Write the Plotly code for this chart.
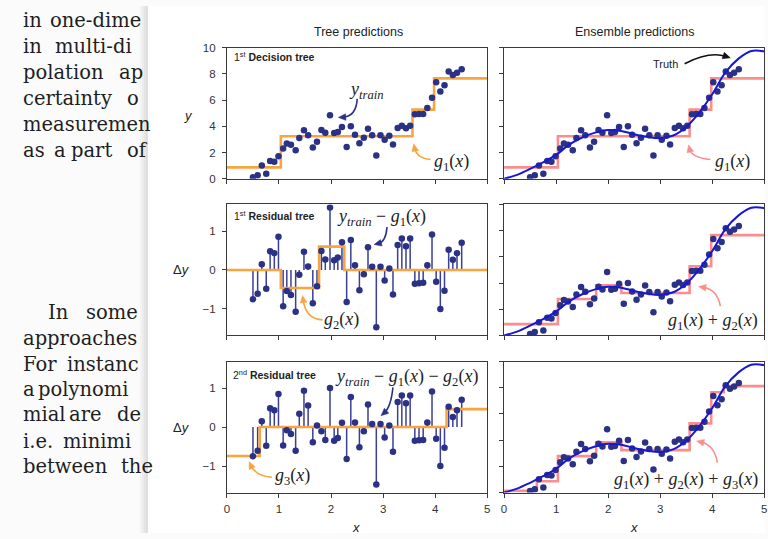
import numpy as np
import plotly.graph_objects as go

W, H = 768, 539

# ---------------- data ----------------
x_train = [0.50, 0.59, 0.67, 0.755, 0.83, 0.91, 0.99, 1.08, 1.15, 1.23,
           1.32, 1.39, 1.48, 1.56, 1.65, 1.73, 1.815, 1.89, 1.98, 2.06,
           2.13, 2.21, 2.30, 2.38, 2.46, 2.545, 2.63, 2.71, 2.79, 2.87,
           2.95, 3.03, 3.12, 3.19, 3.28, 3.36, 3.44, 3.52, 3.61, 3.69,
           3.77, 3.85, 3.94, 4.02, 4.10, 4.18, 4.26, 4.34, 4.42, 4.51]
y_train = [0.12, 0.26, 1.02, 0.39, 1.35, 1.30, 1.72, 2.31, 2.70, 2.60,
           2.17, 3.12, 3.71, 3.33, 2.39, 2.82, 3.73, 3.51, 4.84, 3.49,
           3.56, 3.95, 2.42, 4.01, 3.36, 2.72, 3.13, 3.82, 3.32, 1.77,
           3.32, 2.97, 3.28, 2.61, 3.88, 4.05, 3.85, 4.05, 4.93, 4.94,
           4.95, 5.40, 6.19, 7.36, 6.66, 7.13, 8.18, 7.92, 8.09, 8.36]

g1_edges = [1.035, 3.565, 3.98]
g1_levels = [0.87, 3.24, 5.28, 7.66]
g2_edges = [1.035, 1.77, 2.255]
g2_levels = [0.0, -0.46, 0.60, 0.0]
g3_edges = [0.63, 4.22]
g3_levels = [-0.74, 0.0, 0.46]

truth_x = [0, 0.25, 0.5, 0.75, 1.0, 1.25, 1.5, 1.75, 2.0, 2.25, 2.5,
           2.75, 3.0, 3.25, 3.5, 3.75, 4.0, 4.25, 4.5, 4.75, 5.0]
truth_y = [0.0, 0.3, 0.75, 1.25, 1.82, 2.6, 3.15, 3.52, 3.72, 3.65, 3.4,
           3.2, 3.1, 3.3, 3.95, 5.05, 6.45, 8.1, 9.15, 9.75, 9.72]

x_ticks = [0, 1, 2, 3, 4, 5]
y_ticks = [0, 2, 4, 6, 8, 10]
dy_ticks = [-1, 0, 1]

# ---------------- styles ----------------
NAVY = "#2b3185"
STEM = "#3a3f98"
ORANGE = "#f8a540"
PINK = "#f98e8c"
BLUE = "#1717d6"
AX = "#3a3a3a"
SANS = "Liberation Sans"
SERIF = "Liberation Serif"


def eval_step(xv, edges, levels):
    idx = np.searchsorted(np.array(edges), np.array(xv, dtype=float), side="right")
    return np.array(levels)[idx]


def step_line(*gs):
    bp = sorted(set([0.0, 5.0] + [e for g in gs for e in g[0]]))
    ys = sum(eval_step(bp, g[0], g[1]) for g in gs)
    return bp, list(ys)


xa = np.array(x_train)
ya = np.array(y_train)
r1 = ya - eval_step(xa, g1_edges, g1_levels)
r2 = r1 - eval_step(xa, g2_edges, g2_levels)

fig = go.Figure()


def stems(xs, rs, xr, yr):
    sx, sy = [], []
    for a, b in zip(xs, rs):
        sx += [a, a, None]
        sy += [0, b, None]
    fig.add_trace(go.Scatter(x=sx, y=sy, mode="lines", xaxis=xr, yaxis=yr,
                             line=dict(color=STEM, width=1.5), hoverinfo="skip"))


def dots(xs, ys, xr, yr):
    fig.add_trace(go.Scatter(x=list(xs), y=list(ys), mode="markers", xaxis=xr, yaxis=yr,
                             marker=dict(color=NAVY, size=6.5, line=dict(width=0))))


def step(bx, by, color, xr, yr):
    fig.add_trace(go.Scatter(x=bx, y=by, mode="lines", line_shape="hv", xaxis=xr, yaxis=yr,
                             line=dict(color=color, width=2.6)))


def truth(xr, yr):
    fig.add_trace(go.Scatter(x=truth_x, y=truth_y, mode="lines", line_shape="spline",
                             xaxis=xr, yaxis=yr, line=dict(color=BLUE, width=2)))


g1 = (g1_edges, g1_levels)
g2 = (g2_edges, g2_levels)
g3 = (g3_edges, g3_levels)

# row 1
bx, by = step_line(g1)
step(bx, by, ORANGE, "x", "y")
dots(x_train, y_train, "x", "y")
step(bx, by, PINK, "x2", "y2")
dots(x_train, y_train, "x2", "y2")
truth("x2", "y2")
# row 2
stems(x_train, r1, "x3", "y3")
bx, by = step_line(g2)
step(bx, by, ORANGE, "x3", "y3")
dots(x_train, r1, "x3", "y3")
bx, by = step_line(g1, g2)
step(bx, by, PINK, "x4", "y4")
dots(x_train, y_train, "x4", "y4")
truth("x4", "y4")
# row 3
stems(x_train, r2, "x5", "y5")
bx, by = step_line(g3)
step(bx, by, ORANGE, "x5", "y5")
dots(x_train, r2, "x5", "y5")
bx, by = step_line(g1, g2, g3)
step(bx, by, PINK, "x6", "y6")
dots(x_train, y_train, "x6", "y6")
truth("x6", "y6")

# ---------------- axes ----------------
colx = [(225.7, 488.0), (505.0, 767.3)]
rowy = [(42.7, 176.7), (203.0, 337.0), (363.6, 497.7)]


def xd(p):
    return [p[0] / W, p[1] / W]


def yd(p):
    return [1 - p[1] / H, 1 - p[0] / H]


base = dict(showline=True, mirror=True, linecolor=AX, linewidth=1, ticks="outside",
            ticklen=4, tickwidth=1, tickcolor=AX, showgrid=False, zeroline=False,
            tickfont=dict(family=SANS, size=11.5, color="#333"))
lay = {}
k = 0
for r in range(3):
    for c in range(2):
        k += 1
        sx = "" if k == 1 else str(k)
        lay["xaxis" + sx] = dict(base, domain=xd(colx[c]), range=[0, 5], tickvals=x_ticks,
                                 showticklabels=(r == 2), anchor="y" + sx,
                                 ticklabelstandoff=2)
        if c == 0 and r > 0:
            yr, tv = [-1.68, 1.68], dy_ticks
        else:
            yr, tv = [0, 10], y_ticks
        lay["yaxis" + sx] = dict(base, domain=yd(rowy[r]), range=yr, tickvals=tv,
                                 showticklabels=(c == 0), anchor="x" + sx,
                                 ticklabelstandoff=4)

annotations = []
shapes = []


def P(px, py):
    return px / W, 1 - py / H


def ann(text, px, py, size, family=SANS, color="#222", xanchor="center", yanchor="middle"):
    x, y = P(px, py)
    annotations.append(dict(text=text, x=x, y=y, xref="paper", yref="paper", showarrow=False,
                            xanchor=xanchor, yanchor=yanchor,
                            font=dict(family=family, size=size, color=color)))


def curve(p0, c, p1, color, width=1.6):
    x0, y0 = P(*p0)
    cx, cy = P(*c)
    dx, dy = c[0] - p1[0], c[1] - p1[1]
    n = (dx * dx + dy * dy) ** 0.5
    ux, uy = dx / n, dy / n
    L, hw = 7.5, 3.4
    # shorten the curve so the line ends inside the head
    e = (p1[0] + ux * L * 0.6, p1[1] + uy * L * 0.6)
    ex, ey = P(*e)
    shapes.append(dict(type="path", xref="paper", yref="paper",
                       path=f"M {x0},{y0} Q {cx},{cy} {ex},{ey}",
                       line=dict(color=color, width=width)))
    bxp, byp = p1[0] + ux * L, p1[1] + uy * L
    a = P(p1[0], p1[1])
    b = P(bxp - uy * hw, byp + ux * hw)
    d = P(bxp + uy * hw, byp - ux * hw)
    shapes.append(dict(type="path", xref="paper", yref="paper",
                       path=f"M {a[0]},{a[1]} L {b[0]},{b[1]} L {d[0]},{d[1]} Z",
                       fillcolor=color, line=dict(color=color, width=0.5)))


# page background (book text) and figure panel
shapes.append(dict(type="rect", xref="paper", yref="paper", x0=146 / W, x1=1, y0=0, y1=1,
                   fillcolor="white", line=dict(width=0), layer="below"))
for i, colr in enumerate(["#f3f3f3", "#ececec", "#e4e4e4", "#dcdcdc"]):
    shapes.append(dict(type="rect", xref="paper", yref="paper", x0=(138 + 2 * i) / W,
                       x1=(140 + 2 * i) / W, y0=0, y1=1, fillcolor=colr,
                       line=dict(width=0), layer="below"))

page_words = [
    ("in", 18, 21.7), ("one-dime", 45, 21.7),
    ("in", 18, 48.3), ("multi-di", 50, 48.3),
    ("polation", 18, 75), ("ap", 115, 75),
    ("certainty", 18, 101.7), ("o", 123, 101.7),
    ("measuremen", 18, 128.3),
    ("as", 18, 155), ("a", 49, 155), ("part", 67, 155), ("of", 123, 155),
    ("In", 43, 320), ("some", 82, 320),
    ("approaches", 18, 346.7),
    ("For", 18, 373.3), ("instanc", 62, 373.3),
    ("a", 18, 398.5), ("polynomi", 33, 398.5),
    ("mial", 18, 425), ("are", 65, 425), ("de", 113, 425),
    ("i.e.", 18, 451.7), ("minimi", 58, 451.7),
    ("between", 18, 477.5), ("the", 117, 477.5),
]
for w, px, base_y in page_words:
    ann(w, px, base_y - 6.7, 19.5, family="DejaVu Serif", color="#1e1e1e", xanchor="left")

# titles and labels
ann("Tree predictions", 358.5, 27, 12.5)
ann("Ensemble predictions", 637, 27, 12.5)
ann("1<sup>st</sup> <b>Decision tree</b>", 231, 52, 10.5, xanchor="left")
ann("1<sup>st</sup> <b>Residual tree</b>", 231, 214, 10.5, xanchor="left")
ann("2<sup>nd</sup> <b>Residual tree</b>", 230, 377, 10.5, xanchor="left")
ann("<i>y</i>", 187, 112, 13)
ann("Δ<i>y</i>", 180, 270, 13)
ann("Δ<i>y</i>", 180, 431, 13)
ann("<i>x</i>", 356, 533, 13)
ann("<i>x</i>", 636, 533, 13)
ann("Truth", 668, 59, 11)

M = 18
ann("<i>y</i><sub><i>train</i></sub>", 366, 86, M, family=SERIF)
ann("<i>g</i><sub>1</sub>(<i>x</i>)", 452, 160, M, family=SERIF)
ann("<i>g</i><sub>1</sub>(<i>x</i>)", 735, 160, M, family=SERIF)
ann("<i>y</i><sub><i>train</i></sub> − <i>g</i><sub>1</sub>(<i>x</i>)", 381, 216, M, family=SERIF)
ann("<i>g</i><sub>2</sub>(<i>x</i>)", 341, 322, M, family=SERIF)
ann("<i>g</i><sub>1</sub>(<i>x</i>) + <i>g</i><sub>2</sub>(<i>x</i>)", 716, 323, M, family=SERIF)
ann("<i>y</i><sub><i>train</i></sub> − <i>g</i><sub>1</sub>(<i>x</i>) − <i>g</i><sub>2</sub>(<i>x</i>)",
    407, 380, M, family=SERIF)
ann("<i>g</i><sub>3</sub>(<i>x</i>)", 292, 481, M, family=SERIF)
ann("<i>g</i><sub>1</sub>(<i>x</i>) + <i>g</i><sub>2</sub>(<i>x</i>) + <i>g</i><sub>3</sub>(<i>x</i>)",
    688, 485, M, family=SERIF)

# curved arrows
curve((357, 95), (356, 113), (338, 114), NAVY)
curve((431, 157), (417, 156), (414, 141), ORANGE)
curve((687, 59), (712, 46), (733, 53), "#111")
curve((713, 157), (694, 155), (691, 142), PINK)
curve((387, 226), (386, 241), (374, 244), NAVY)
curve((322, 321), (305, 320), (302, 296), ORANGE)
curve((723, 307), (720, 290), (701, 287), PINK)
curve((393, 390), (391, 410), (381, 419), NAVY)
curve((271, 482), (255, 481), (248, 466), ORANGE)
curve((720, 467), (717, 449), (699, 445), PINK)

fig.update_layout(
    width=W, height=H, margin=dict(l=0, r=0, t=0, b=0),
    paper_bgcolor="#fbfbfb", plot_bgcolor="rgba(0,0,0,0)",
    showlegend=False, annotations=annotations, shapes=shapes, **lay,
)
fig.write_html("out.html")
